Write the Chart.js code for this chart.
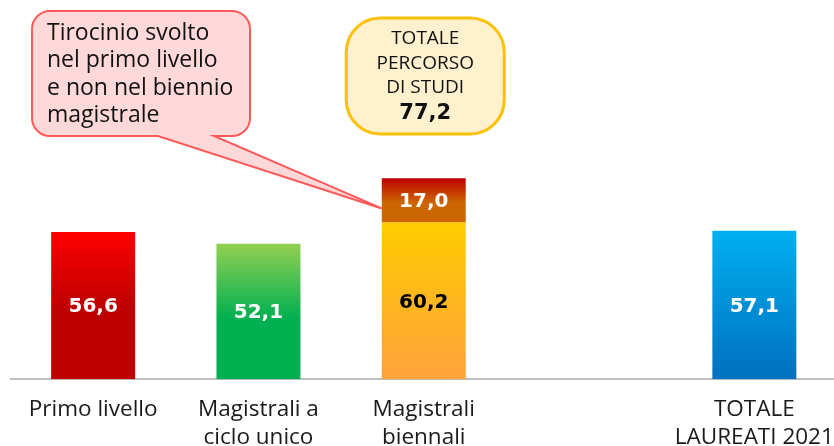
<!DOCTYPE html>
<html><head><meta charset="utf-8">
<script src="https://cdn.jsdelivr.net/npm/chart.js@4.4.0/dist/chart.umd.min.js"></script>
<style>
html,body{margin:0;padding:0;overflow:hidden;background:#fff;width:834px;height:446px}
#wrap{position:absolute;left:0;top:0;width:837px;height:446px}
</style>
</head><body><div id="wrap"><canvas id="c" width="837" height="446"></canvas></div>
<script>
const categories = ["Primo livello", ["Magistrali a", "ciclo unico"], ["Magistrali", "biennali"], "", ["TOTALE", "LAUREATI 2021"]];
const baseValues = [56.6, 52.1, 60.2, null, 57.1];
const extraValues = [null, null, 17.0, null, null];
const calloutLines = ["Tirocinio svolto", "nel primo livello", "e non nel biennio", "magistrale"];
const totalLines = ["TOTALE", "PERCORSO", "DI STUDI"];
const yMax = 100;

const baseGradients = [
  [[0, "#FF0000"], [0.5, "#C00000"], [1, "#C00000"]],
  [[0, "#92D050"], [0.55, "#00B050"], [1, "#00B050"]],
  [[0, "#FFCC00"], [1, "#FFA23C"]],
  null,
  [[0, "#00B0F0"], [1, "#0070C0"]]
];
const extraGradients = [null, null, [[0, "#C00000"], [0.55, "#CC6600"], [1, "#CC6600"]], null, null];
const baseLabelColors = ["#FFFFFF", "#FFFFFF", "#000000", "#FFFFFF", "#FFFFFF"];
const extraLabelColors = ["#FFFFFF", "#FFFFFF", "#FFFFFF", "#FFFFFF", "#FFFFFF"];
const TEXT_FONT = '"Open Sans", sans-serif';
const NUM_FONT = '"DejaVu Sans", sans-serif';

function fmt(v) { return v.toFixed(1).replace('.', ','); }

function makeBg(grads, prior) {
  return (ctx) => {
    const chart = ctx.chart;
    if (!chart.chartArea || ctx.dataIndex === undefined) return 'transparent';
    const g = grads[ctx.dataIndex];
    const v = ctx.dataset.data[ctx.dataIndex];
    if (!g || v == null) return 'transparent';
    const ys = chart.scales.y;
    const start = prior ? (prior[ctx.dataIndex] || 0) : 0;
    const y0 = ys.getPixelForValue(start);
    const y1 = ys.getPixelForValue(start + v);
    const grad = chart.ctx.createLinearGradient(0, y1, 0, y0);
    g.forEach(s => grad.addColorStop(s[0], s[1]));
    return grad;
  };
}

const valuePlugin = {
  id: 'vals',
  afterDatasetsDraw(chart) {
    const c = chart.ctx;
    c.save();
    c.font = 'bold 20px ' + NUM_FONT;
    c.textAlign = 'center';
    c.textBaseline = 'middle';
    const colors = [baseLabelColors, extraLabelColors];
    chart.data.datasets.forEach((ds, di) => {
      chart.getDatasetMeta(di).data.forEach((el, i) => {
        const v = ds.data[i];
        if (v == null) return;
        const p = el.getProps(['x', 'y', 'base'], true);
        c.fillStyle = colors[di][i];
        c.fillText(fmt(v), p.x, (p.y + p.base) / 2 + 1.5);
      });
    });
    c.restore();
  }
};

const notePlugin = {
  id: 'notes',
  afterDraw(chart) {
    const c = chart.ctx;
    const el = chart.getDatasetMeta(1).data[2];
    const p = el.getProps(['x', 'y', 'base', 'width'], true);
    // pink callout
    const bx = 32, by = 11, bw = 218, bh = 125, r = 18;
    const tipX = p.x - p.width / 2, tipY = p.y + 0.68 * (p.base - p.y);
    const t1 = 158, t2 = 214;
    c.save();
    c.beginPath();
    c.moveTo(bx + r, by);
    c.lineTo(bx + bw - r, by);
    c.arcTo(bx + bw, by, bx + bw, by + r, r);
    c.lineTo(bx + bw, by + bh - r);
    c.arcTo(bx + bw, by + bh, bx + bw - r, by + bh, r);
    c.lineTo(t2, by + bh);
    c.lineTo(tipX, tipY);
    c.lineTo(t1, by + bh);
    c.lineTo(bx + r, by + bh);
    c.arcTo(bx, by + bh, bx, by + bh - r, r);
    c.lineTo(bx, by + r);
    c.arcTo(bx, by, bx + r, by, r);
    c.closePath();
    c.fillStyle = '#FFD9D9';
    c.fill();
    c.lineWidth = 2;
    c.strokeStyle = '#FF5A5A';
    c.lineJoin = 'miter';
    c.stroke();
    c.fillStyle = '#111111';
    c.font = '23px ' + TEXT_FONT;
    c.textAlign = 'left';
    c.textBaseline = 'middle';
    calloutLines.forEach((t, i) => c.fillText(t, 47, 33 + i * 27.6));
    // yellow total box
    const total = (baseValues[2] || 0) + (extraValues[2] || 0);
    const cx = p.x + 1.5, yw = 158, yh = 116, yy = 18;
    c.beginPath();
    c.roundRect(cx - yw / 2, yy, yw, yh, 34);
    c.fillStyle = '#FFF1CE';
    c.fill();
    c.lineWidth = 3;
    c.strokeStyle = '#FFC000';
    c.stroke();
    c.fillStyle = '#111111';
    c.textAlign = 'center';
    c.font = '19px ' + TEXT_FONT;
    totalLines.forEach((t, i) => c.fillText(t, cx, 39 + i * 24.5));
    c.font = 'bold 21px ' + NUM_FONT;
    c.fillText(fmt(total), cx, 114);
    c.restore();
  }
};

new Chart(document.getElementById('c'), {
  type: 'bar',
  data: {
    labels: categories,
    datasets: [
      { data: baseValues, backgroundColor: makeBg(baseGradients, null), borderWidth: 0 },
      { data: extraValues, backgroundColor: makeBg(extraGradients, baseValues), borderWidth: 0 }
    ]
  },
  options: {
    responsive: false,
    animation: false,
    layout: { padding: { left: 10.5, right: 0, top: 119, bottom: 0 } },
    plugins: { legend: { display: false }, tooltip: { enabled: false } },
    datasets: { bar: { barPercentage: 0.508, categoryPercentage: 1 } },
    scales: {
      x: {
        stacked: true,
        grid: { display: false, drawTicks: false },
        border: { display: true, color: '#BFBFBF', width: 2 },
        ticks: { font: { family: TEXT_FONT, size: 22.5, lineHeight: 1.25 }, color: '#1a1a1a', padding: 16, maxRotation: 0, autoSkip: false },
        afterFit: (s) => { s.height = 66.7; s.paddingLeft = 0; s.paddingRight = 0; }
      },
      y: { stacked: true, display: false, min: 0, max: yMax }
    }
  },
  plugins: [valuePlugin, notePlugin]
});
</script>
</body></html>
